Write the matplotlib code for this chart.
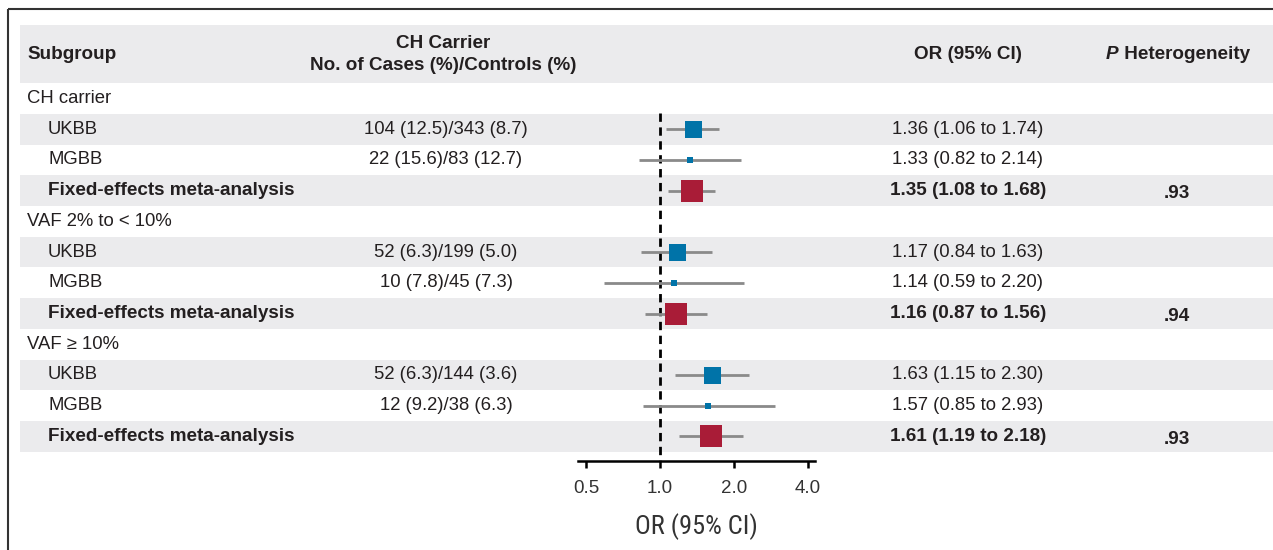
import numpy as np
import matplotlib
matplotlib.use('Agg')
import matplotlib.pyplot as plt
from matplotlib.ticker import FixedLocator, NullLocator
from matplotlib import font_manager

# forest plot rows
labels = ['CH carrier', 'UKBB', 'MGBB', 'Fixed-effects meta-analysis',
          'VAF 2% to < 10%', 'UKBB', 'MGBB', 'Fixed-effects meta-analysis',
          'VAF \u2265 10%', 'UKBB', 'MGBB', 'Fixed-effects meta-analysis']
kinds = ['section', 'study', 'study', 'meta'] * 3
cases = ['', '104 (12.5)/343 (8.7)', '22 (15.6)/83 (12.7)', '',
         '', '52 (6.3)/199 (5.0)', '10 (7.8)/45 (7.3)', '',
         '', '52 (6.3)/144 (3.6)', '12 (9.2)/38 (6.3)', '']
odds = [np.nan, 1.36, 1.33, 1.35, np.nan, 1.17, 1.14, 1.16, np.nan, 1.63, 1.57, 1.61]
ci_lo = [np.nan, 1.06, 0.82, 1.08, np.nan, 0.84, 0.59, 0.87, np.nan, 1.15, 0.85, 1.19]
ci_hi = [np.nan, 1.74, 2.14, 1.68, np.nan, 1.63, 2.20, 1.56, np.nan, 2.30, 2.93, 2.18]
p_het = ['', '', '', '.93', '', '', '', '.94', '', '', '', '.93']

xticks = [0.5, 1.0, 2.0, 4.0]
xticklabels = ['0.5', '1.0', '2.0', '4.0']

BLUE = '#0073a8'
RED = '#a91c37'
GRAY = '#ebebed'
TXT = '#231f20'
FONT = 'Liberation Sans'
FS = 13.3
FSB = 13.6

# condensed face for the axis title if one is around
names = {f.name for f in font_manager.fontManager.ttflist}
narrow = [n for n in ['Liberation Sans Narrow', 'Roboto Condensed', 'Open Sans Condensed']
          if n in names]
cond_family = narrow[0] if narrow else 'DejaVu Sans'

W, H = 1273, 550
fig = plt.figure(figsize=(W / 100, H / 100), dpi=100)

# rows are 30.7 px apart, first row centred 98.6 px from the top
pitch = 30.7
y0 = 98.6
def yrow(px):
    return (px - y0) / pitch

bg = fig.add_axes([0, 0, 1, 1])
bg.set_xlim(0, W)
bg.set_ylim(yrow(H), yrow(0))
bg.axis('off')

# frame lines top / left
bg.plot([8, W], [yrow(9), yrow(9)], color='#333333', lw=1.5, solid_capstyle='butt')
bg.plot([8, 8], [yrow(9), yrow(H)], color='#333333', lw=1.5, solid_capstyle='butt')

# header band
bg.axhspan(yrow(83), yrow(25), xmin=20 / W, xmax=1, color=GRAY, lw=0)
bg.text(27, yrow(55), 'Subgroup', ha='left', va='center', fontsize=FSB,
        fontweight='bold', family=FONT, color=TXT)
bg.text(443, yrow(44), 'CH Carrier', ha='center', va='center', fontsize=FSB,
        fontweight='bold', family=FONT, color=TXT)
bg.text(443, yrow(66), 'No. of Cases (%)/Controls (%)', ha='center', va='center',
        fontsize=FSB, fontweight='bold', family=FONT, color=TXT)
bg.text(968, yrow(55), 'OR (95% CI)', ha='center', va='center', fontsize=FSB,
        fontweight='bold', family=FONT, color=TXT)
ptxt = bg.text(1106, yrow(55), 'P', ha='left', va='center', fontsize=FSB,
               fontweight='bold', fontstyle='italic', family=FONT, color=TXT)
bg.annotate(' Heterogeneity', xy=(1, 0.5), xycoords=ptxt, ha='left', va='center',
            fontsize=FSB, fontweight='bold', family=FONT, color=TXT)

for i, (lab, kind) in enumerate(zip(labels, kinds)):
    if i % 2 == 1:
        bg.axhspan(i - 0.5, i + 0.5, xmin=20 / W, xmax=1, color=GRAY, lw=0)
    bold = 'bold' if kind == 'meta' else 'normal'
    size = FSB if kind == 'meta' else FS
    x_lab = 27 if kind == 'section' else 48
    bg.text(x_lab, i, lab, ha='left', va='center', fontsize=size,
            fontweight=bold, family=FONT, color=TXT)
    if cases[i]:
        bg.text(446, i, cases[i], ha='center', va='center', fontsize=FS,
                family=FONT, color=TXT)
    if not np.isnan(odds[i]):
        s = f'{odds[i]:.2f} ({ci_lo[i]:.2f} to {ci_hi[i]:.2f})'
        bg.text(968, i, s, ha='center', va='center', fontsize=size,
                fontweight=bold, family=FONT, color=TXT)
    if p_het[i]:
        bg.text(1177, i + 0.1, p_het[i], ha='center', va='center', fontsize=FSB,
                fontweight='bold', family=FONT, color=TXT)

# forest panel, same vertical scale as the table
ax_left, ax_right, ax_bottom = 578, 815, 461
ax = fig.add_axes([ax_left / W, (H - ax_bottom) / H, (ax_right - ax_left) / W, ax_bottom / H])
ax.set_facecolor('none')
ax.set_xscale('log', base=2)
ax.set_xlim(0.464, 4.27)
ax.set_ylim(yrow(ax_bottom), yrow(0))

ax.vlines(1.0, 0.47, yrow(ax_bottom), colors='black', lw=2, linestyles=(0, (3, 2)))

for i, kind in enumerate(kinds):
    if np.isnan(odds[i]):
        continue
    ax.hlines(i, ci_lo[i], ci_hi[i], colors='#8a8a8a', lw=2)
    if kind == 'meta':
        col, ms = RED, 21.5 * 0.72
    elif labels[i] == 'UKBB':
        col, ms = BLUE, 17 * 0.72
    else:
        col, ms = BLUE, 6 * 0.72
    ax.plot(odds[i], i, marker='s', ms=ms, color=col, mew=0, zorder=3)

for side in ['top', 'right', 'left']:
    ax.spines[side].set_visible(False)
ax.spines['bottom'].set_linewidth(1.8)
ax.yaxis.set_major_locator(NullLocator())
ax.xaxis.set_major_locator(FixedLocator(xticks))
ax.xaxis.set_minor_locator(NullLocator())
ax.set_xticklabels(xticklabels, fontsize=13.5, family=FONT, color='#333333')
ax.tick_params(axis='x', direction='out', length=5, width=1.8, pad=9)
ax.set_xlabel('OR (95% CI)', fontsize=19 if narrow else 17, family=cond_family,
              fontstretch='condensed', color='#333333', labelpad=11)

fig.savefig('out.png', dpi=100)
